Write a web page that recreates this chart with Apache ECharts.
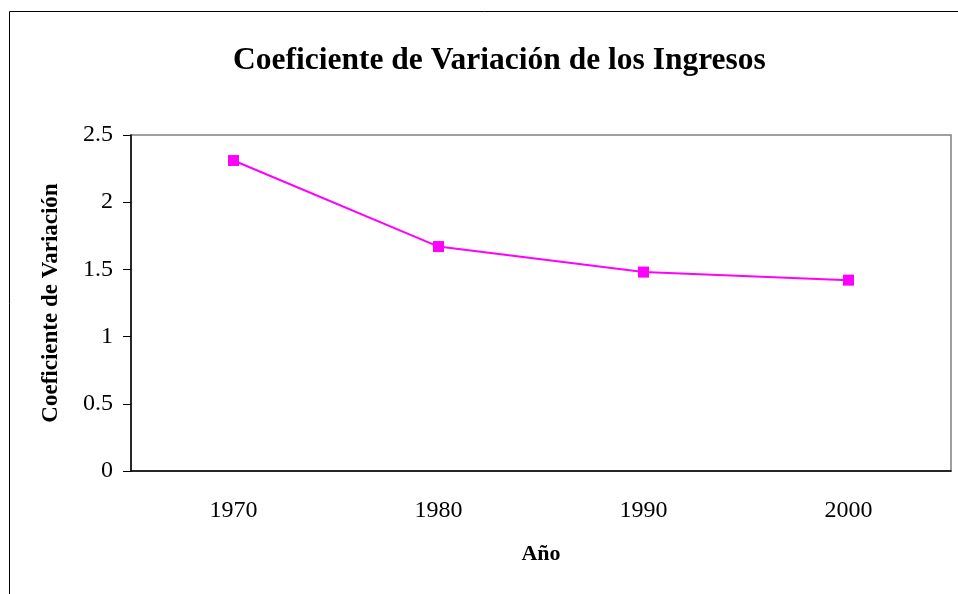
<!DOCTYPE html>
<html>
<head>
  <meta name="viewport" content="width=device-width, initial-scale=1">
  <script src="https://cdn.jsdelivr.net/npm/echarts/dist/echarts.min.js"></script>
  <style>
    html, body { margin: 0; padding: 0; background: #fff; }
  </style>
  <title>Coeficiente de Variación</title>
  <script type="text/javascript">
    // data
    const years = ['1970', '1980', '1990', '2000'];
    const coefVar = [2.31, 1.67, 1.48, 1.42];
    const yTicks = [0, 0.5, 1, 1.5, 2, 2.5];

    const serif = '"Liberation Serif", "Times New Roman", serif';

    function init() {
      myChart = echarts.init(document.getElementById('main'));
      option = {
        animation: false,
        backgroundColor: '#fff',
        graphic: [
          {
            type: 'rect',
            shape: { x: 9.5, y: 11.5, width: 1000, height: 700 },
            style: { fill: 'none', stroke: '#000', lineWidth: 1 },
            silent: true
          }
        ],
        title: {
          text: 'Coeficiente de Variación de los Ingresos',
          left: 228,
          top: 40,
          textStyle: { fontFamily: serif, fontSize: 31.5, fontWeight: 'bold', color: '#000' }
        },
        grid: {
          left: 131, top: 135, right: 7, bottom: 123,
          show: true, borderColor: '#808080', borderWidth: 1.5
        },
        xAxis: {
          type: 'category',
          data: years,
          boundaryGap: true,
          name: 'Año',
          nameLocation: 'middle',
          nameGap: 72,
          nameTextStyle: { fontFamily: serif, fontSize: 22, fontWeight: 'bold', color: '#000' },
          axisLine: { lineStyle: { color: '#000', width: 1.5 } },
          axisTick: { length: 8, lineStyle: { color: '#555' } },
          axisLabel: { margin: 28, fontFamily: serif, fontSize: 24, color: '#000' },
          splitLine: { show: false }
        },
        yAxis: {
          type: 'value',
          min: yTicks[0],
          max: yTicks[yTicks.length - 1],
          interval: yTicks[1] - yTicks[0],
          name: 'Coeficiente de Variación',
          nameLocation: 'middle',
          nameGap: 68,
          nameTextStyle: { fontFamily: serif, fontSize: 23, fontWeight: 'bold', color: '#000' },
          axisLine: { show: true, lineStyle: { color: '#000', width: 1.5 } },
          axisTick: { show: true, length: 8, lineStyle: { color: '#000' } },
          axisLabel: { margin: 18, fontFamily: serif, fontSize: 24, color: '#000' },
          splitLine: { show: false }
        },
        series: [
          {
            type: 'line',
            data: coefVar,
            symbol: 'rect',
            symbolSize: 11,
            lineStyle: { color: '#FF00FF', width: 2 },
            itemStyle: { color: '#FF00FF' }
          }
        ]
      };
      myChart.setOption(option);
    }
  </script>
</head>
<body onload="init()">
  <div id="main" style="width: 958px; height: 594px;"></div>
</body>
</html>
